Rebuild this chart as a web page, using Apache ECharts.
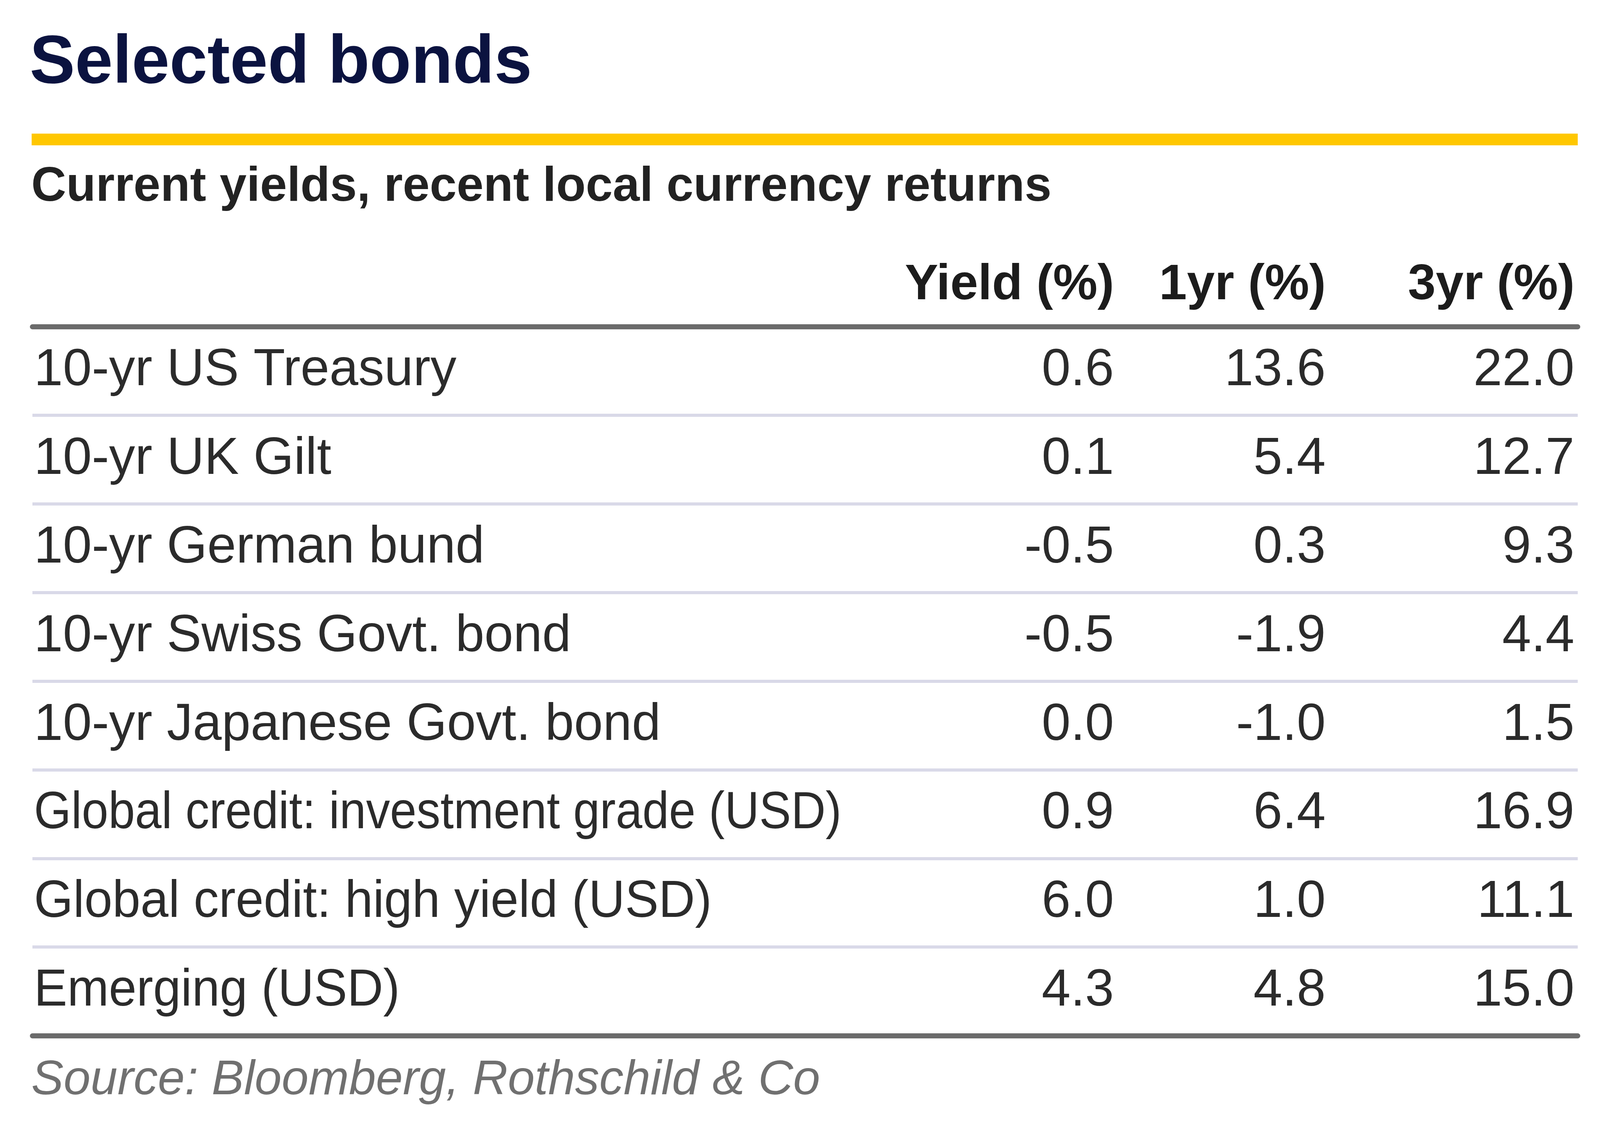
<!DOCTYPE html>
<html>
<head>
<meta charset="utf-8">
<script src="https://cdn.jsdelivr.net/npm/echarts@6/dist/echarts.min.js"></script>
<style>
  html, body { margin: 0; padding: 0; background: #fff; }
  #chart { width: 4224px; height: 2936px; }
</style>
</head>
<body>
<div id="chart"></div>
<script>
// table data
const rowNames = [
  '10-yr US Treasury',
  '10-yr UK Gilt',
  '10-yr German bund',
  '10-yr Swiss Govt. bond',
  '10-yr Japanese Govt. bond',
  'Global credit: investment grade (USD)',
  'Global credit: high yield (USD)',
  'Emerging (USD)'
]
const columnHeaders = ['Yield (%)', '1yr (%)', '3yr (%)']
const yieldPct = [0.6, 0.1, -0.5, -0.5, 0.0, 0.9, 6.0, 4.3]
const oneYrPct = [13.6, 5.4, 0.3, -1.9, -1.0, 6.4, 1.0, 4.8]
const threeYrPct = [22.0, 12.7, 9.3, 4.4, 1.5, 16.9, 11.1, 15.0]

const titleText = 'Selected bonds'
const subtitleText = 'Current yields, recent local currency returns'
const sourceText = 'Source: Bloomberg, Rothschild & Co'

// layout
const W = 4224
const H = 2936
const gridLeft = 83
const gridRight = 4039
const gridTop = 836
const gridBottom = 2651
// right edge of each numeric column, as a fraction of table width
const colRight = [0.700, 0.837, 0.998]
// the lower row labels are set a little narrower in the original
const labelScaleX = [1, 1, 1, 1, 1, 0.92, 0.97, 0.96]
const FONT = '"Liberation Sans", Arial, sans-serif'
const TEXT = '#2b2b2b'

const chart = echarts.init(document.getElementById('chart'))

function columnSeries (name, values, col) {
  return {
    name: name,
    type: 'scatter',
    symbolSize: 1,
    itemStyle: { color: 'rgba(0,0,0,0)', opacity: 1 },
    silent: true,
    data: values.map((v, i) => [colRight[col], i, v]),
    label: {
      show: true,
      position: 'left',
      distance: 0,
      opacity: 1,
      fontFamily: FONT,
      fontSize: 133,
      color: TEXT,
      formatter: p => p.value[2].toFixed(1)
    }
  }
}

const tableWidth = gridRight - gridLeft

const option = {
  backgroundColor: '#ffffff',
  animation: false,
  grid: {
    left: gridLeft,
    right: W - gridRight,
    top: gridTop,
    bottom: H - gridBottom
  },
  xAxis: [{
    type: 'value',
    min: 0,
    max: 1,
    position: 'top',
    z: 5,
    axisLine: { show: true, lineStyle: { color: '#6b6b6b', width: 13 } },
    axisTick: { show: false },
    axisLabel: { show: false },
    splitLine: { show: false }
  }, {
    type: 'value',
    min: 0,
    max: 1,
    position: 'bottom',
    z: 5,
    axisLine: { show: true, lineStyle: { color: '#6b6b6b', width: 13 } },
    axisTick: { show: false },
    axisLabel: { show: false },
    splitLine: { show: false }
  }],
  yAxis: {
    type: 'category',
    inverse: true,
    data: rowNames,
    axisLine: { show: false },
    axisTick: { show: false },
    axisLabel: { show: false },
    splitLine: { show: true, lineStyle: { color: '#d9d9e8', width: 8 } }
  },
  series: [
    {
      name: 'Bond',
      type: 'custom',
      silent: true,
      data: rowNames.map((n, i) => [0, i]),
      renderItem: (params, api) => {
        const i = api.value(1)
        const pt = api.coord([0, i])
        return {
          type: 'text',
          x: pt[0] + 4,
          y: pt[1],
          scaleX: labelScaleX[i],
          style: {
            text: rowNames[i],
            fontFamily: FONT,
            fontSize: 133,
            fill: TEXT,
            align: 'left',
            verticalAlign: 'middle'
          }
        }
      }
    },
    columnSeries(columnHeaders[0], yieldPct, 0),
    columnSeries(columnHeaders[1], oneYrPct, 1),
    columnSeries(columnHeaders[2], threeYrPct, 2)
  ],
  graphic: [
    {
      type: 'text',
      x: 76,
      y: 164,
      style: {
        text: titleText,
        fontFamily: FONT,
        fontWeight: 'bold',
        fontSize: 174,
        fill: '#0b1340',
        align: 'left',
        verticalAlign: 'middle'
      }
    },
    {
      type: 'rect',
      shape: { x: gridLeft - 2, y: 342, width: tableWidth + 2, height: 30 },
      style: { fill: '#ffc700' }
    },
    {
      type: 'text',
      x: 80,
      y: 480,
      style: {
        text: subtitleText,
        fontFamily: FONT,
        fontWeight: 'bold',
        fontSize: 124,
        fill: '#222222',
        align: 'left',
        verticalAlign: 'middle'
      }
    },
    ...columnHeaders.map((h, i) => ({
      type: 'text',
      x: gridLeft + colRight[i] * tableWidth,
      y: 731,
      style: {
        text: h,
        fontFamily: FONT,
        fontWeight: 'bold',
        fontSize: 128,
        fill: '#1c1c1c',
        align: 'right',
        verticalAlign: 'middle'
      }
    })),
    {
      type: 'text',
      x: 80,
      y: 2766,
      style: {
        text: sourceText,
        fontFamily: FONT,
        fontStyle: 'italic',
        fontSize: 124,
        fill: '#707070',
        align: 'left',
        verticalAlign: 'middle'
      }
    }
  ]
}

chart.setOption(option)
</script>
</body>
</html>
